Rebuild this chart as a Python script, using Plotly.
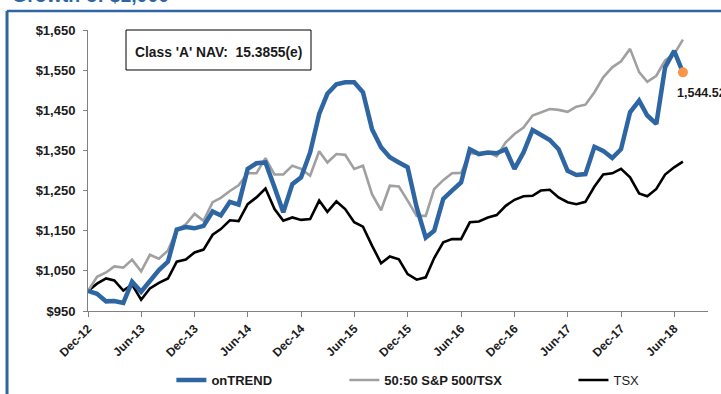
import pandas as pd
import plotly.graph_objects as go

# monthly observations, Dec-12 .. Jul-18
months = pd.date_range("2012-12-01", periods=68, freq="MS")

ontrend = [
    1000, 993, 974, 975, 970, 1023, 998, 1023, 1052, 1073,
    1153, 1159, 1156, 1162, 1198, 1188, 1222, 1215, 1304, 1318,
    1320, 1258, 1196, 1266, 1283, 1345, 1441, 1491, 1515, 1520,
    1520, 1495, 1403, 1358, 1333, 1320, 1308, 1208, 1133, 1150,
    1229, 1250, 1270, 1353, 1341, 1345, 1343, 1353, 1304, 1345,
    1401, 1389, 1376, 1353, 1299, 1289, 1291, 1359, 1349, 1331,
    1353, 1445, 1474, 1437, 1416, 1557, 1598, 1544.52,
]
sp_tsx = [
    1000, 1035, 1046, 1061, 1058, 1078, 1049, 1090, 1080, 1101,
    1151, 1166, 1192, 1175, 1221, 1232, 1249, 1263, 1293, 1293,
    1331, 1290, 1290, 1312, 1304, 1287, 1348, 1320, 1341, 1339,
    1304, 1312, 1241, 1201, 1262, 1260, 1225, 1187, 1187, 1254,
    1276, 1293, 1294, 1343, 1341, 1345, 1335, 1370, 1391, 1407,
    1437, 1445, 1453, 1451, 1446, 1459, 1464, 1495, 1532, 1557,
    1572, 1603, 1545, 1521, 1536, 1574, 1590, 1626,
]
tsx = [
    1000, 1018, 1031, 1026, 1001, 1016, 978, 1006, 1020, 1031,
    1073, 1078, 1096, 1103, 1140, 1154, 1176, 1174, 1216, 1233,
    1255, 1204, 1175, 1183, 1177, 1179, 1225, 1197, 1223, 1204,
    1171, 1160, 1113, 1069, 1086, 1079, 1042, 1028, 1034, 1082,
    1121, 1129, 1129, 1171, 1173, 1183, 1189, 1212, 1227, 1236,
    1237, 1250, 1252, 1233, 1221, 1216, 1222, 1260, 1290, 1293,
    1304, 1283, 1243, 1236, 1254, 1290, 1308, 1322,
]

title_text = "Growth of $1,000"
nav_text = "Class 'A' NAV:\u00a0\u00a015.3855(e)"

FONT = "Arial, 'Liberation Sans', sans-serif"
BLUE = "#2E66A3"
GRAY = "#A0A0A0"
ORANGE = "#F79646"

fig = go.Figure()
fig.add_trace(go.Scatter(x=months, y=tsx, mode="lines", name="TSX",
                         line=dict(color="black", width=2.6), legend="legend3"))
fig.add_trace(go.Scatter(x=months, y=sp_tsx, mode="lines", name="<b>50:50 S&P 500/TSX</b>",
                         line=dict(color=GRAY, width=2.6), legend="legend2"))
fig.add_trace(go.Scatter(x=months, y=ontrend, mode="lines", name="<b>onTREND</b>",
                         line=dict(color=BLUE, width=4.5), legend="legend"))
# latest NAV point
fig.add_trace(go.Scatter(x=[months[-1]], y=[ontrend[-1]], mode="markers",
                         marker=dict(color=ORANGE, size=10), showlegend=False,
                         hoverinfo="skip"))

fig.add_annotation(x=months[-1], y=ontrend[-1], text=f"<b>{ontrend[-1]:,.2f}</b>",
                   showarrow=False, xanchor="left", yanchor="top", xshift=-8, yshift=-12,
                   font=dict(size=12.5, color="#1a1a1a"))

# NAV box
fig.add_shape(type="rect", xref="paper", yref="paper", x0=0.0613, x1=0.3597,
              y0=0.8577, y1=1.0, line=dict(color="black", width=1), fillcolor="white")
fig.add_annotation(xref="paper", yref="paper", x=0.2105, y=0.9217, xanchor="center",
                   yanchor="middle", text=f"<b>{nav_text}</b>",
                   showarrow=False, font=dict(size=13.8, color="#1a1a1a"))

# cut-off title and blue frame
fig.add_annotation(xref="paper", yref="paper", x=-0.126, y=1.078, xanchor="left",
                   yanchor="bottom", text=f"<b>{title_text}</b>", showarrow=False,
                   font=dict(size=19.5, color=BLUE))
fig.add_shape(type="line", xref="paper", yref="paper", x0=-0.131, x1=1.03,
              y0=1.0676, y1=1.0676, line=dict(color=BLUE, width=2.5))
fig.add_shape(type="line", xref="paper", yref="paper", x0=-0.1306, x1=-0.1306,
              y0=-0.3, y1=1.0676, line=dict(color=BLUE, width=3))

legend_common = dict(orientation="h", y=-0.2456, yanchor="middle", xanchor="left",
                     bgcolor="rgba(0,0,0,0)", borderwidth=0, tracegroupgap=0)
fig.update_layout(
    width=721, height=394,
    margin=dict(l=88, r=13, t=30, b=83, autoexpand=False),
    paper_bgcolor="white", plot_bgcolor="white",
    font=dict(family=FONT, size=13, color="#1a1a1a"),
    legend=dict(x=0.1345, font=dict(size=13), **legend_common),
    legend2=dict(x=0.4135, font=dict(size=13), **legend_common),
    legend3=dict(x=0.783, font=dict(size=13), **legend_common),
    xaxis=dict(type="date", range=["2012-12-01", "2018-09-25"], dtick="M6",
               tick0="2012-12-01", tickformat="%b-%y", tickangle=-45,
               ticks="outside", ticklen=5, tickcolor="#808080", showline=True,
               linecolor="#808080", linewidth=1, showgrid=False, zeroline=False,
               automargin=False, tickfont=dict(size=12, weight="bold")),
    yaxis=dict(range=[950, 1650], dtick=100, tick0=950, tickprefix="$", tickformat=",d",
               ticks="outside", ticklen=4, tickcolor="#808080", showline=True,
               linecolor="#808080", linewidth=1, showgrid=False, zeroline=False,
               automargin=False, ticklabelstandoff=5,
               tickfont=dict(size=13, weight="bold")),
    showlegend=True,
)

# drop the default 8px page margin so the figure sits at the window's corner
fig.write_html("out.html", config={"displayModeBar": False},
               post_script="document.body.style.margin = '0';")
